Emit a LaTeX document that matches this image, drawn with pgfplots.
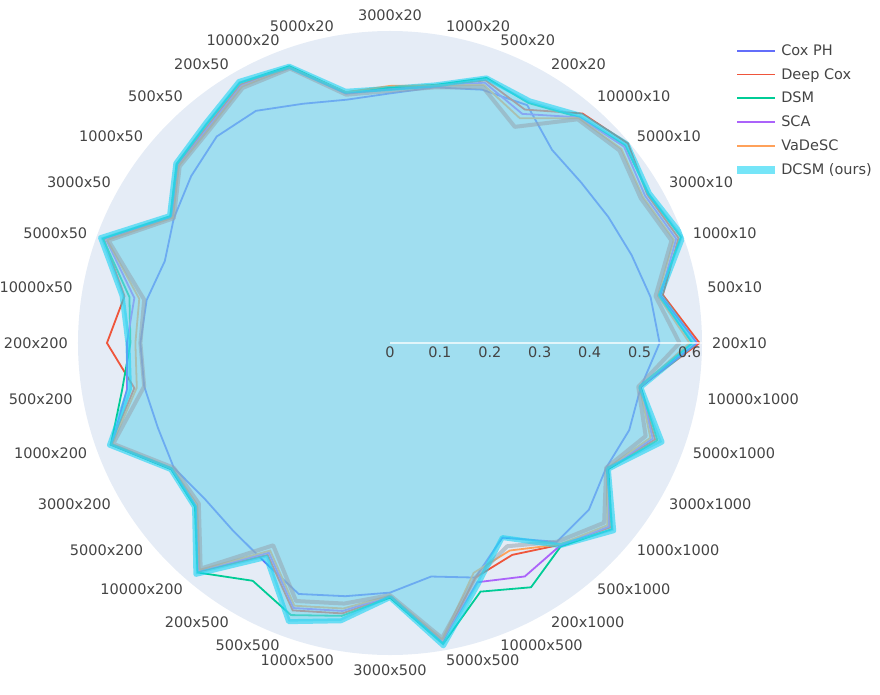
\documentclass[border=0pt]{standalone}
\usepackage{fontspec}
\setmainfont{DejaVu Sans}
\usepackage{pgfplots}
\usepackage{pgfplotstable}
\pgfplotsset{compat=1.18}
\usepgfplotslibrary{polar}

\definecolor{polarbg}{HTML}{E5ECF6}
\definecolor{labelgray}{HTML}{444444}
\definecolor{coxph}{HTML}{636EFA}
\definecolor{deepcox}{HTML}{EF553B}
\definecolor{dsm}{HTML}{00CC96}
\definecolor{sca}{HTML}{AB63FA}
\definecolor{vadesc}{HTML}{FFA15A}
\definecolor{dcsm}{HTML}{19D3F3}
\definecolor{dcsmfill}{RGB}{114,213,236}
\definecolor{bandgray}{RGB}{150,165,175}

% angle in degrees, one row per setting (n x d), last row closes the loop
\pgfplotstableread{
ang cyan gray cox deep dsm sca vade
0   0.610 0.580 0.540 0.620 0.605 0.615 0.600
10  0.550 0.540 0.530 0.555 0.548 0.550 0.545
20  0.625 0.600 0.515 0.615 0.620 0.610 0.605
30  0.600 0.580 0.505 0.595 0.598 0.590 0.585
40  0.620 0.600 0.500 0.622 0.615 0.612 0.605
50  0.595 0.585 0.505 0.600 0.590 0.590 0.588
60  0.560 0.500 0.550 0.540 0.555 0.530 0.520
70  0.565 0.545 0.540 0.560 0.565 0.555 0.550
80  0.525 0.520 0.520 0.522 0.525 0.522 0.524
90  0.510 0.505 0.500 0.510 0.512 0.508 0.515
100 0.512 0.505 0.495 0.508 0.510 0.507 0.510
110 0.590 0.585 0.510 0.588 0.590 0.586 0.587
120 0.605 0.590 0.537 0.598 0.602 0.595 0.593
130 0.575 0.560 0.540 0.568 0.572 0.565 0.562
140 0.560 0.550 0.520 0.555 0.558 0.553 0.552
150 0.510 0.500 0.500 0.505 0.508 0.504 0.502
160 0.617 0.600 0.480 0.610 0.612 0.605 0.603
170 0.545 0.500 0.495 0.540 0.530 0.520 0.510
180 0.525 0.500 0.500 0.567 0.520 0.527 0.510
190 0.530 0.500 0.500 0.520 0.545 0.535 0.515
200 0.598 0.590 0.495 0.595 0.595 0.593 0.592
210 0.507 0.500 0.500 0.505 0.506 0.504 0.503
220 0.511 0.500 0.485 0.508 0.510 0.506 0.504
230 0.605 0.590 0.490 0.598 0.600 0.595 0.593
240 0.496 0.468 0.505 0.490 0.550 0.485 0.480
250 0.594 0.550 0.535 0.570 0.580 0.565 0.560
260 0.565 0.530 0.515 0.550 0.555 0.545 0.540
270 0.510 0.505 0.500 0.508 0.510 0.507 0.506
280 0.616 0.600 0.475 0.608 0.612 0.605 0.603
290 0.515 0.500 0.500 0.500 0.530 0.510 0.490
300 0.450 0.470 0.450 0.490 0.565 0.540 0.480
310 0.530 0.520 0.520 0.528 0.532 0.530 0.527
320 0.585 0.560 0.520 0.575 0.580 0.572 0.568
330 0.505 0.500 0.500 0.503 0.505 0.503 0.502
340 0.580 0.545 0.510 0.565 0.570 0.560 0.555
350 0.510 0.505 0.510 0.508 0.510 0.509 0.508
360 0.610 0.580 0.540 0.620 0.605 0.615 0.600
}\radar

\begin{document}
\begin{tikzpicture}
\useasboundingbox (0,0) rectangle (880pt,694pt);
\begin{polaraxis}[
  at={(390pt,351pt)}, anchor=center,
  scale only axis, width=624pt, height=624pt,
  xmin=0, xmax=360, ymin=0, ymax=0.625,
  xtick={0,10,...,350},
  xticklabels={},
  ytick={0,0.1,0.2,0.3,0.4,0.5,0.6},
  /pgf/number format/assume math mode=true,
  axis on top,
  grid=none,
  axis line style={draw=none},
  major tick length=0pt,
  axis background/.style={fill=polarbg},
  tick label style={font=\fontsize{14.5}{17}\selectfont, text=labelgray},
  yticklabel style={anchor=north, inner sep=4pt},
  legend style={at={(1.045,0.985)}, anchor=north west, draw=none, fill=none,
    font=\fontsize{14.5}{17}\selectfont, text=labelgray, row sep=7.5pt},
  legend cell align=left,
  legend image code/.code={\draw[#1, line cap=butt] (0pt,0pt) -- (38pt,0pt);},
]
\addplot[no marks, color=coxph, line width=1.8pt] table[x=ang, y=cox]{\radar};
\addlegendentry{Cox PH}
\addplot[no marks, color=deepcox, line width=1.8pt] table[x=ang, y=deep]{\radar};
\addlegendentry{Deep Cox}
\addplot[no marks, color=dsm, line width=1.8pt] table[x=ang, y=dsm]{\radar};
\addlegendentry{DSM}
\addplot[no marks, color=sca, line width=1.8pt] table[x=ang, y=sca]{\radar};
\addlegendentry{SCA}
\addplot[no marks, color=vadesc, line width=1.8pt] table[x=ang, y=vade]{\radar};
\addlegendentry{VaDeSC}
\addplot[no marks, draw=none, fill=dcsmfill, fill opacity=0.6, forget plot]
  table[x=ang, y=cyan]{\radar};
\addplot[no marks, color=bandgray, line width=4pt, opacity=0.55, line join=round, forget plot]
  table[x=ang, y=gray]{\radar};
\addplot[no marks, color=dcsm, line width=5pt, opacity=0.6, line join=round,
  legend image post style={line width=8pt}]
  table[x=ang, y=cyan]{\radar};
\addlegendentry{DCSM (ours)}
\draw[white, opacity=0.7, line width=1.5pt] (axis cs:0,0) -- (axis cs:0,0.625);
\end{polaraxis}
% category names round the circle
\begin{scope}[shift={(390pt,351pt)}]
\foreach \lab [count=\i from 0] in {200x10,500x10,1000x10,3000x10,5000x10,10000x10,
    200x20,500x20,1000x20,3000x20,5000x20,10000x20,
    200x50,500x50,1000x50,3000x50,5000x50,10000x50,
    200x200,500x200,1000x200,3000x200,5000x200,10000x200,
    200x500,500x500,1000x500,3000x500,5000x500,10000x500,
    200x1000,500x1000,1000x1000,3000x1000,5000x1000,10000x1000} {
  \pgfmathtruncatemacro{\ang}{10*\i}
  \pgfmathtruncatemacro{\anc}{abs(cos(\ang))<0.05 ? (sin(\ang)>0 ? 270 : 90) : (cos(\ang)>0 ? 180 : 0)}
  \node[anchor=\anc, inner sep=0pt, font=\fontsize{14.5}{17}\selectfont, text=labelgray]
    at (\ang:322pt) {\lab};
}
\end{scope}
\end{tikzpicture}
\end{document}
